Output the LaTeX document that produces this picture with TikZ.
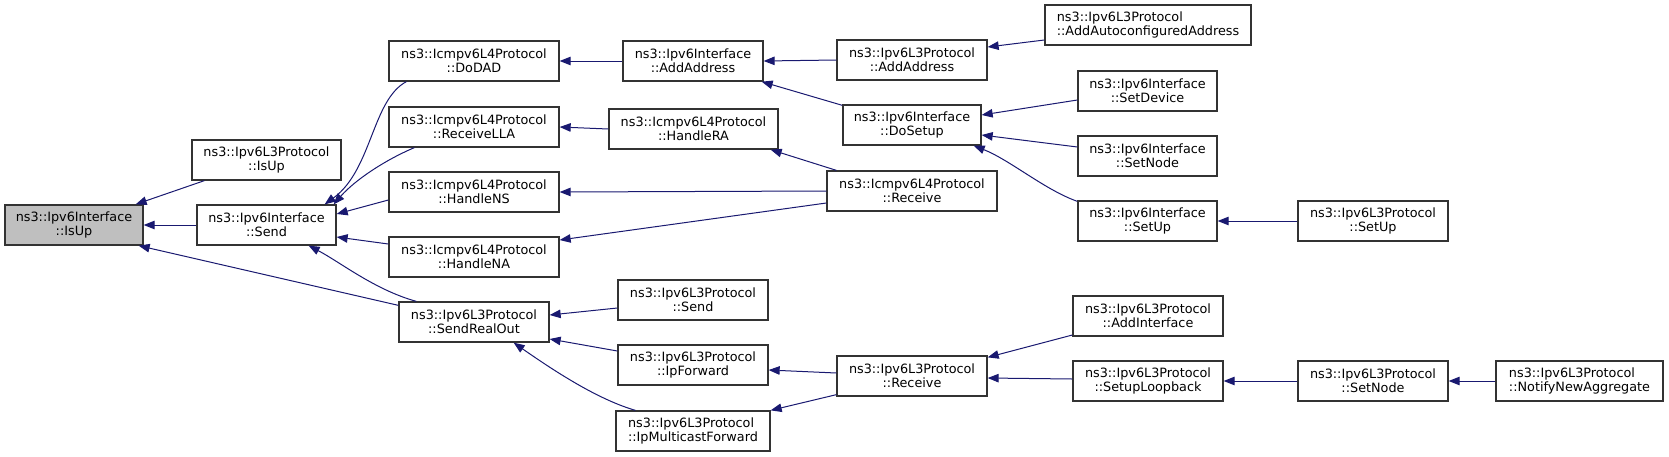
\documentclass[tikz,border=0pt]{standalone}
\usepackage{fontspec}
\setmainfont{DejaVu Sans}
\usetikzlibrary{arrows.meta,calc}
\definecolor{edgecol}{HTML}{191970}
\definecolor{boxline}{HTML}{333333}
\definecolor{grayfill}{HTML}{BFBFBF}
\begin{document}
\begin{tikzpicture}[x=1pt,y=-1pt,
  fn/.style={draw=boxline, line width=1.3pt, fill=white, rectangle, inner sep=0pt,
    minimum height=40pt, align=center, font={\fontsize{12.8}{14}\selectfont}},
  fnl/.style={fn, align=left},
  cur/.style={fn, fill=grayfill},
  calledge/.style={draw=edgecol, line width=1pt, {Triangle[length=11pt,width=8.5pt]}-}]
\useasboundingbox (0,0) rectangle (1669,456);
% column 1
\node[cur, minimum width=138pt] (isup) at (74,225) {ns3::Ipv6Interface\\::IsUp};
% column 2
\node[fn, minimum width=149pt] (l3isup) at (266.5,160) {ns3::Ipv6L3Protocol\\::IsUp};
\node[fn, minimum width=139pt] (send) at (266.5,225) {ns3::Ipv6Interface\\::Send};
% column 3
\node[fn, minimum width=170pt] (dodad) at (474,61) {ns3::Icmpv6L4Protocol\\::DoDAD};
\node[fn, minimum width=170pt] (rlla) at (474,127) {ns3::Icmpv6L4Protocol\\::ReceiveLLA};
\node[fn, minimum width=170pt] (hns) at (474,192) {ns3::Icmpv6L4Protocol\\::HandleNS};
\node[fn, minimum width=170pt] (hna) at (474,257) {ns3::Icmpv6L4Protocol\\::HandleNA};
\node[fn, minimum width=150pt] (srout) at (474,322) {ns3::Ipv6L3Protocol\\::SendRealOut};
% column 4
\node[fn, minimum width=140pt] (aaddr) at (693,61) {ns3::Ipv6Interface\\::AddAddress};
\node[fn, minimum width=169pt] (hra) at (693.5,129) {ns3::Icmpv6L4Protocol\\::HandleRA};
\node[fn, minimum width=150pt] (l3send) at (693,300) {ns3::Ipv6L3Protocol\\::Send};
\node[fn, minimum width=150pt] (ipfwd) at (693,365) {ns3::Ipv6L3Protocol\\::IpForward};
\node[fnl, minimum width=154pt] (ipmc) at (693,431) {ns3::Ipv6L3Protocol\\::IpMulticastForward};
% column 5
\node[fn, minimum width=150pt] (l3aaddr) at (912,60) {ns3::Ipv6L3Protocol\\::AddAddress};
\node[fn, minimum width=138pt] (dosetup) at (912,125) {ns3::Ipv6Interface\\::DoSetup};
\node[fn, minimum width=170pt] (icrecv) at (912,191) {ns3::Icmpv6L4Protocol\\::Receive};
\node[fn, minimum width=150pt] (l3recv) at (912,376) {ns3::Ipv6L3Protocol\\::Receive};
% column 6
\node[fnl, minimum width=206pt] (autoconf) at (1148,25) {ns3::Ipv6L3Protocol\\::AddAutoconfiguredAddress};
\node[fn, minimum width=139pt] (setdev) at (1147.5,91) {ns3::Ipv6Interface\\::SetDevice};
\node[fn, minimum width=139pt] (setnodei) at (1147.5,156) {ns3::Ipv6Interface\\::SetNode};
\node[fn, minimum width=139pt] (setupi) at (1147.5,221) {ns3::Ipv6Interface\\::SetUp};
\node[fn, minimum width=150pt] (addif) at (1148,316) {ns3::Ipv6L3Protocol\\::AddInterface};
\node[fn, minimum width=150pt] (setlb) at (1148,381) {ns3::Ipv6L3Protocol\\::SetupLoopback};
% column 7
\node[fn, minimum width=150pt] (l3setup) at (1373,221) {ns3::Ipv6L3Protocol\\::SetUp};
\node[fn, minimum width=150pt] (l3setnode) at (1373,381) {ns3::Ipv6L3Protocol\\::SetNode};
% column 8
\node[fnl, minimum width=167pt] (notify) at (1579.5,381) {ns3::Ipv6L3Protocol\\::NotifyNewAggregate};

% edges (arrow at the callee end)
\draw[calledge] ($(isup.north east)+(-8,0)$) -- ($(l3isup.south west)+(13,0)$);
\draw[calledge] (isup.east) -- (send.west);
\draw[calledge] ($(isup.south east)+(-5,0)$) -- ($(srout.north west)+(0,4)$);
\draw[calledge] ($(send.north east)+(-12,0)$) .. controls (372,170) and (372,100) .. ($(dodad.south west)+(18,0)$);
\draw[calledge] ($(send.north east)+(-3,0)$) .. controls (355,180) and (385,160) .. ($(rlla.south west)+(26,0)$);
\draw[calledge] ($(send.east)+(0,-11)$) -- ($(hns.west)+(0,8)$);
\draw[calledge] ($(send.east)+(0,12)$) -- ($(hna.west)+(0,-13)$);
\draw[calledge] ($(send.south east)+(-28,0)$) .. controls (340,262) and (375,290) .. ($(srout.north west)+(18,0)$);
\draw[calledge] (dodad.east) -- (aaddr.west);
\draw[calledge] (rlla.east) -- (hra.west);
\draw[calledge] (hns.east) -- (icrecv.west);
\draw[calledge] ($(hna.east)+(0,-17)$) -- ($(icrecv.west)+(0,12)$);
\draw[calledge] ($(hra.south east)+(-8,0)$) -- ($(icrecv.north west)+(10,0)$);
\draw[calledge] (aaddr.east) -- (l3aaddr.west);
\draw[calledge] ($(aaddr.south east)+(-2,0)$) -- ($(dosetup.north west)+(0,1)$);
\draw[calledge] ($(l3aaddr.east)+(0,-13)$) -- ($(autoconf.west)+(0,15)$);
\draw[calledge] ($(dosetup.east)+(0,-10)$) -- ($(setdev.west)+(0,9)$);
\draw[calledge] ($(dosetup.east)+(0,10)$) -- ($(setnodei.west)+(0,-9)$);
\draw[calledge] ($(dosetup.south east)+(-8,0)$) .. controls (1010,160) and (1045,190) .. ($(setupi.north west)+(0,1)$);
\draw[calledge] (setupi.east) -- (l3setup.west);
\draw[calledge] ($(srout.east)+(0,-7)$) -- ($(l3send.west)+(0,8)$);
\draw[calledge] ($(srout.east)+(0,17)$) -- ($(ipfwd.west)+(0,-14)$);
\draw[calledge] ($(srout.south east)+(-36,0)$) .. controls (560,375) and (600,400) .. ($(ipmc.north west)+(20,0)$);
\draw[calledge] ($(ipfwd.east)+(0,5)$) -- ($(l3recv.west)+(0,-3)$);
\draw[calledge] (ipmc.north east) -- ($(l3recv.south west)+(0,-2)$);
\draw[calledge] ($(l3recv.north east)+(0,2)$) -- ($(addif.west)+(0,19)$);
\draw[calledge] ($(l3recv.east)+(0,2)$) -- ($(setlb.west)+(0,-2)$);
\draw[calledge] (setlb.east) -- (l3setnode.west);
\draw[calledge] (l3setnode.east) -- (notify.west);
\end{tikzpicture}
\end{document}
